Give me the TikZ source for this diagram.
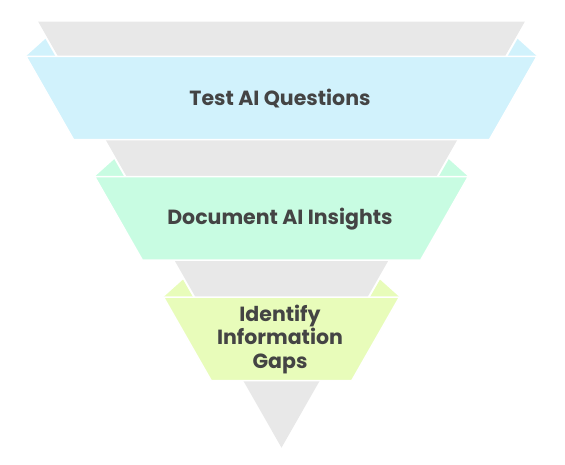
\documentclass[tikz,border=0pt]{standalone}
\usepackage{fontspec}
\setmainfont{Poppins}
\usepackage{tikz}
\usetikzlibrary{positioning,calc}
\definecolor{FunnelGray}{RGB}{232,232,232}
\definecolor{StageBlue}{RGB}{209,242,252}
\definecolor{StageGreen}{RGB}{200,252,226}
\definecolor{StageYellow}{RGB}{232,252,186}
\definecolor{LabelText}{RGB}{68,68,68}
\tikzset{
  % Gray funnel behind the stages
  funnel/.style={
    fill=FunnelGray,
    draw=none
  },
  % Stage band
  band/.style={
    draw=white,
    line width=1.5pt
  },
  % Stage label
  stagelabel/.style={
    font=\bfseries\fontsize{20.5}{23.5}\selectfont,
    text=LabelText,
    align=center,
    inner sep=0pt
  }
}

\begin{document}
\begin{tikzpicture}[x=1pt,y=-1pt]
  \useasboundingbox (0,0) rectangle (565,465);
  % Funnel
  \fill[funnel] (38.2,21.7) -- (524.8,21.7) -- (281.5,447.7) -- cycle;
  % Stages
  \foreach \i/\col/\txt in {0/StageBlue/{Test AI Questions},
                            1/StageGreen/{Document AI Insights},
                            2/StageYellow/{Identify\\Information\\Gaps}} {
    \pgfmathsetmacro{\yT}{56.3+120.4*\i}
    \pgfmathsetmacro{\yB}{\yT+83.4}
    \pgfmathsetmacro{\wT}{0.5711*(447.7-\yT)+32}
    \pgfmathsetmacro{\wB}{0.5711*(447.7-\yB)+32}
    % Folds
    \fill[\col] (281.5-\wT,\yT) -- ++(19.5,-17.5) -- ++(10,17.5) -- cycle;
    \fill[\col] (281.5+\wT,\yT) -- ++(-19.5,-17.5) -- ++(-10,17.5) -- cycle;
    % Band
    \draw[band, fill=\col] (281.5-\wT,\yT) -- (281.5+\wT,\yT)
      -- (281.5+\wB,\yB) -- (281.5-\wB,\yB) -- cycle;
    \node[stagelabel] (stage\i) at (280,{\yT+42}) {\txt};
  }
\end{tikzpicture}
\end{document}
